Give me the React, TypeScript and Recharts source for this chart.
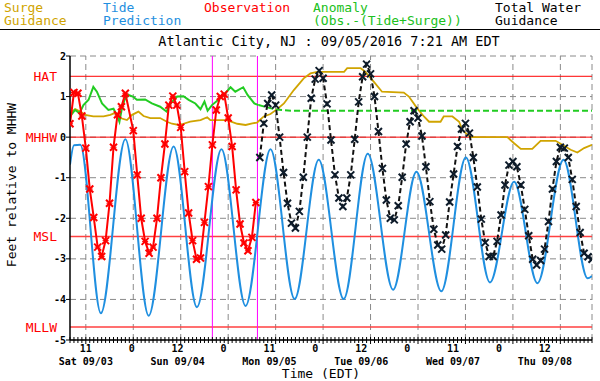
import React from "react";
import { LineChart, Line, XAxis, YAxis, CartesianGrid, ReferenceLine } from "recharts";

const FONT = '"DejaVu Sans Mono", monospace';
const GOLD = "#d0a400";
const BLUE = "#1f8fe0";
const RED = "#ff0000";
const GREEN = "#22cc22";
const GRID = "#8a8a8a";

// hours since Sat 09/03 00:00 EDT
const obsHours = [8, 9, 10, 11, 12, 13, 14, 15, 16, 17, 18, 19, 20, 21, 22, 24, 25, 26, 27, 28, 29, 30, 31, 32, 33, 34, 35, 36, 37, 38, 39, 40, 41, 42, 43, 44, 45, 46, 47, 48, 49, 50, 51, 52, 53, 54, 55];
const obsValues = [0.33, 1.1, 1.08, 0.52, -0.27, -1.28, -1.98, -2.71, -2.94, -2.55, -1.63, -0.25, 0.55, 0.75, 1.08, 0.16, -0.93, -2.0, -2.57, -2.86, -2.71, -2.0, -1.0, -0.17, 0.79, 1.01, 0.79, 0.24, -0.85, -1.87, -2.55, -3.01, -2.98, -2.1, -1.22, -0.19, 0.67, 1.0, 1.06, 0.47, -0.23, -1.3, -2.14, -2.61, -2.8, -2.47, -1.61];

const tideHours = [8, 9, 10.6, 15.8, 22.0, 27.9, 34.2, 40.1, 46.3, 52.4, 58.7, 64.8, 70.9, 77.2, 83.3, 89.7, 95.6, 101.9, 108.1, 114.2, 120.3, 126.2, 132.8, 138.9, 140];
const tideValues = [-0.68, -0.2, -0.19, -4.34, -0.05, -4.4, -0.23, -4.19, -0.3, -4.16, -0.3, -3.99, -0.56, -3.99, -0.41, -3.76, -0.85, -3.8, -0.5, -3.58, -1.1, -3.6, -0.56, -3.48, -3.42];

const surgeHours = [8, 9.3, 10.6, 11.8, 13.9, 16.5, 18.2, 19.4, 20.7, 22.4, 23.7, 25.3, 26.6, 28.3, 30.8, 32.5, 33.8, 35.5, 36.7, 38.4, 41.0, 42.7, 43.5, 47.7, 50.3, 52.4, 54.1, 55.3, 57.0, 58.7, 60.4, 62.1, 64.6, 67.1, 68.8, 70.5, 77.3, 78.1, 81.5, 82.7, 84.8, 86.9, 92.4, 93.7, 95.8, 97.5, 98.8, 101.7, 102.5, 104.7, 106.4, 107.2, 108.1, 109.3, 118.6, 120.3, 122.0, 124.9, 127.0, 130.8, 132.5, 134.6, 136.3, 138.0, 140];
const surgeValues = [0.59, 0.69, 0.63, 0.55, 0.51, 0.51, 0.55, 0.6, 0.47, 0.42, 0.55, 0.63, 0.52, 0.47, 0.47, 0.38, 0.33, 0.3, 0.33, 0.38, 0.42, 0.49, 0.42, 0.42, 0.33, 0.3, 0.34, 0.36, 0.51, 0.57, 0.69, 0.83, 1.16, 1.45, 1.57, 1.61, 1.61, 1.7, 1.7, 1.61, 1.37, 1.12, 1.1, 1.0, 0.71, 0.51, 0.38, 0.38, 0.51, 0.51, 0.38, 0.18, 0.1, 0.0, 0.0, -0.15, -0.29, -0.29, -0.09, -0.09, -0.19, -0.31, -0.38, -0.27, -0.19];

const anomalyHours = [8, 9.3, 10.4, 11.4, 12.7, 13.9, 14.8, 16.1, 17.7, 19.0, 20.0, 20.5, 21.1, 21.8, 22.8, 23.9, 24.9, 27.0, 28.7, 30.8, 32.4, 33.4, 35.1, 36.7, 38.0, 39.7, 41.0, 42.0, 42.8, 43.9, 45.6, 46.9, 48.6, 49.8, 51.8, 52.9, 54.6, 55.7];
const anomalyValues = [0.51, 0.67, 0.59, 0.79, 0.92, 1.24, 1.12, 0.83, 0.67, 0.7, 0.51, 0.38, 0.69, 0.92, 1.04, 1.0, 0.92, 0.93, 0.83, 0.75, 0.63, 0.83, 1.0, 1.01, 0.92, 0.83, 0.69, 0.88, 0.65, 0.79, 0.93, 1.04, 1.23, 1.12, 1.23, 1.04, 0.83, 0.79];
const anomalyFcHours = [55.7, 60, 64, 140];
const anomalyFcValues = [0.79, 0.68, 0.65, 0.65];

const totalStartHour = 56;
const totalValues = [-0.5, 0.34, 0.83, 1.04, 0.79, 0.0, -0.87, -1.63, -2.12, -2.24, -1.83, -0.99, 0.0, 0.96, 1.43, 1.64, 1.45, 0.82, -0.07, -0.93, -1.5, -1.71, -1.5, -0.93, -0.05, 0.87, 1.49, 1.8, 1.56, 1.0, 0.14, -0.77, -1.55, -2.0, -2.04, -1.69, -0.99, -0.17, 0.38, 0.65, 0.47, 0.03, -0.73, -1.59, -2.27, -2.66, -2.76, -2.41, -1.6, -0.91, -0.23, 0.2, 0.34, 0.1, -0.5, -1.23, -2.02, -2.6, -2.94, -2.94, -2.57, -1.92, -1.18, -0.69, -0.6, -0.73, -1.18, -1.78, -2.43, -3.01, -3.15, -3.04, -2.76, -2.08, -1.28, -0.6, -0.25, -0.27, -0.5, -1.04, -1.71, -2.35, -2.86, -2.95, -3.01];

const majorHours = [12, 24, 36, 48, 60, 72, 84, 96, 108, 120, 132];
const hourLabels = ["11", "0", "12", "0", "11", "0", "12", "0", "11", "0", "12"];
const dayLabels = ["Sat 09/03", "", "Sun 09/04", "", "Mon 09/05", "", "Tue 09/06", "", "Wed 09/07", "", "Thu 09/08"];
const yTicks = [-5, -4, -3, -2, -1, 0, 1, 2];
const datums = [
  { name: "HAT", value: 1.5 },
  { name: "MHHW", value: 0 },
  { name: "MSL", value: -2.45 },
  { name: "MLLW", value: -4.68 },
];
const markerHours = [44, 55.4];

const X_MIN = 8;
const X_MAX = 140;
const hourTicks = Array.from({ length: X_MAX - X_MIN + 1 }, (_, i) => X_MIN + i);

const pts = (xs: number[], ys: number[]) => xs.map((h, i) => ({ h, v: ys[i] }));
const obsData = pts(obsHours, obsValues);
const tideData = pts(tideHours, tideValues);
const surgeData = pts(surgeHours, surgeValues);
const anomalyData = pts(anomalyHours, anomalyValues);
const anomalyFcData = pts(anomalyFcHours, anomalyFcValues);
const totalData = totalValues.map((v, i) => ({ h: totalStartHour + i, v }));

const XMark = ({ cx, cy, color, bar }: { cx: number; cy: number; color: string; bar?: boolean }) => (
  <g strokeDasharray="none">
    <line x1={cx - 3.5} y1={cy - 3.5} x2={cx + 3.5} y2={cy + 3.5} stroke={color} strokeWidth={2} />
    <line x1={cx - 3.5} y1={cy + 3.5} x2={cx + 3.5} y2={cy - 3.5} stroke={color} strokeWidth={2} />
    {bar && <line x1={cx - 3} y1={cy} x2={cx + 3} y2={cy} stroke={color} strokeWidth={1} />}
  </g>
);

const HourTick = (props: any) => {
  const { x, y, payload } = props;
  const h = payload.value as number;
  const k = majorHours.indexOf(h);
  const major = k >= 0;
  const dx = major ? -1.55 * k : 0;
  return (
    <g>
      <line x1={x} y1={y - 3} x2={x} y2={y + (major ? 4 : 3)} stroke="#000" strokeWidth={1} />
      {major && (
        <text x={x + dx} y={y + 12} textAnchor="middle" fontFamily={FONT} fontSize={10} fontWeight="bold" fill="#000">
          {hourLabels[k]}
        </text>
      )}
      {major && dayLabels[k] && (
        <text x={x + dx} y={y + 25} textAnchor="middle" fontFamily={FONT} fontSize={10} fontWeight="bold" fill="#000">
          {dayLabels[k]}
        </text>
      )}
    </g>
  );
};

const ValueTick = (props: any) => {
  const { x, y, payload } = props;
  return (
    <text x={x} y={y + 3.5} textAnchor="end" fontFamily={FONT} fontSize={10} fontWeight="bold" fill="#000">
      {payload.value}
    </text>
  );
};

const headers = [
  { left: 4, color: GOLD, lines: ["Surge", "Guidance"] },
  { left: 103, color: BLUE, lines: ["Tide", "Prediction"] },
  { left: 204, color: RED, lines: ["Observation"] },
  { left: 313, color: "#20c020", lines: ["Anomaly", "(Obs.-(Tide+Surge))"] },
  { left: 495, color: "#000", lines: ["Total Water", "Guidance"] },
];

export default function App() {
  return (
    <div style={{ position: "absolute", left: 0, top: 0, width: 600, height: 381, background: "#fff", fontFamily: FONT }}>
      {headers.map((hd) => (
        <div
          key={hd.left}
          style={{ position: "absolute", left: hd.left, top: 1, color: hd.color, fontSize: 13, lineHeight: "13px", whiteSpace: "pre" }}
        >
          {hd.lines.join("\n")}
        </div>
      ))}
      <div style={{ position: "absolute", left: 0, top: 29, width: 600, height: 1, background: "#000" }} />
      <div style={{ position: "absolute", left: 329, top: 34, transform: "translateX(-50%)", fontSize: 13.5, lineHeight: "15px", whiteSpace: "pre", color: "#000" }}>
        Atlantic City, NJ : 09/05/2016 7:21 AM EDT
      </div>
      <div
        style={{ position: "absolute", left: 11, top: 185, transform: "translate(-50%, -50%) rotate(-90deg)", fontSize: 13, whiteSpace: "pre", color: "#000" }}
      >
        Feet relative to MHHW
      </div>
      <div style={{ position: "absolute", left: 321, top: 367, transform: "translateX(-50%)", fontSize: 13, lineHeight: "14px", whiteSpace: "pre", color: "#000" }}>
        Time (EDT)
      </div>

      <div style={{ position: "absolute", left: 0, top: 0 }}>
        <LineChart width={600} height={381} margin={{ top: 56, right: 8, bottom: 0, left: 0 }}>
          <CartesianGrid vertical={false} stroke={GRID} strokeDasharray="6 4" />
          <XAxis
            dataKey="h"
            type="number"
            domain={[X_MIN, X_MAX]}
            ticks={hourTicks}
            interval={0}
            allowDataOverflow
            height={41}
            tickSize={0}
            tickMargin={0}
            tickLine={false}
            tick={<HourTick />}
            axisLine={{ stroke: "#000", strokeWidth: 1.5 }}
          />
          <YAxis
            type="number"
            domain={[-5, 2]}
            ticks={yTicks}
            interval={0}
            width={70}
            tickSize={4}
            tickMargin={0}
            tickLine={{ stroke: "#000" }}
            tick={<ValueTick />}
            axisLine={{ stroke: "#000", strokeWidth: 1.5 }}
          />
          {majorHours.concat([X_MAX]).map((h) => (
            <ReferenceLine key={"g" + h} x={h} stroke={GRID} strokeDasharray="6 4" />
          ))}
          {datums.map((d) => (
            <ReferenceLine
              key={d.name}
              y={d.value}
              stroke={d.value < -2 ? "#ff4040" : RED}
              strokeWidth={d.value < -2 ? 1.5 : 1}
              label={{ value: d.name, position: "left", offset: 13, fill: RED, fontSize: 13, fontFamily: FONT }}
            />
          ))}
          {markerHours.map((h) => (
            <ReferenceLine key={"m" + h} x={h} stroke="#ff00ff" strokeWidth={1} />
          ))}
          <Line data={surgeData} dataKey="v" type="linear" stroke={GOLD} strokeWidth={1.8} dot={false} isAnimationActive={false} />
          <Line data={tideData} dataKey="v" type="monotone" stroke={BLUE} strokeWidth={2} dot={false} isAnimationActive={false} />
          <Line data={anomalyData} dataKey="v" type="linear" stroke={GREEN} strokeWidth={2} dot={false} isAnimationActive={false} />
          <Line
            data={anomalyFcData}
            dataKey="v"
            type="linear"
            stroke={GREEN}
            strokeWidth={2}
            strokeDasharray="6 3"
            dot={false}
            isAnimationActive={false}
          />
          <Line
            data={obsData}
            dataKey="v"
            type="linear"
            stroke={RED}
            strokeWidth={2}
            isAnimationActive={false}
            dot={(p: any) => <XMark key={"o" + p.index} cx={p.cx} cy={p.cy} color={RED} bar />}
          />
          <Line
            data={totalData}
            dataKey="v"
            type="linear"
            stroke="#111"
            strokeWidth={2}
            strokeDasharray="5 3"
            isAnimationActive={false}
            dot={(p: any) => <XMark key={"t" + p.index} cx={p.cx} cy={p.cy} color="#0d1b2a" />}
          />
        </LineChart>
      </div>
    </div>
  );
}
